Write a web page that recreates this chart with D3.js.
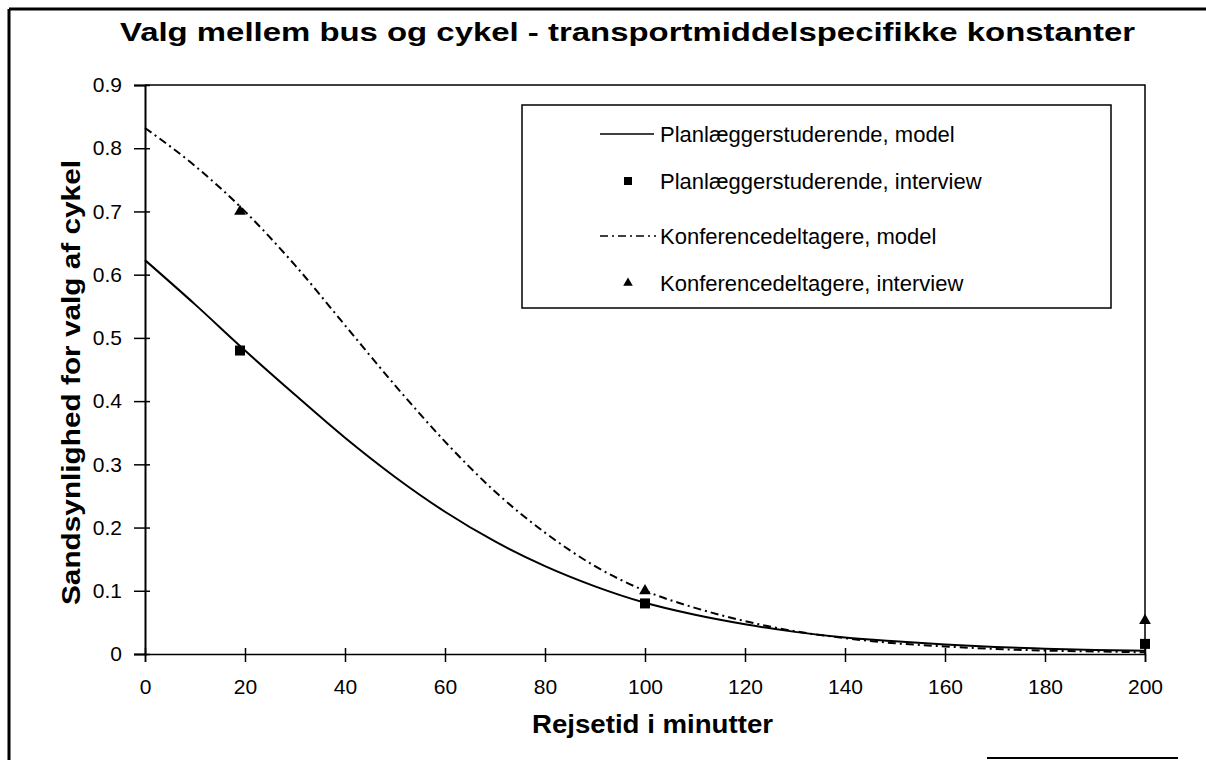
<!DOCTYPE html>
<html>
<head>
<meta charset="utf-8">
<script src="https://cdn.jsdelivr.net/npm/d3@7"></script>
<style>
  body { margin: 0; background: #fff; }
  svg { display: block; font-family: "Liberation Sans", Arial, sans-serif; }
</style>
</head>
<body>
<div id="chart"></div>
<script>
// travel time in minutes, model curves
const minutes = [0, 10, 20, 30, 40, 50, 60, 70, 80, 90, 100, 110, 120, 130, 140, 150, 160, 170, 180, 190, 200];
const planModel = [0.623, 0.553, 0.48, 0.41, 0.342, 0.28, 0.225, 0.178, 0.139, 0.107, 0.081, 0.062, 0.047, 0.035, 0.026, 0.02, 0.015, 0.011, 0.0085, 0.0065, 0.005];
const konfModel = [0.832, 0.772, 0.70, 0.615, 0.52, 0.425, 0.336, 0.257, 0.192, 0.139, 0.10, 0.073, 0.052, 0.036, 0.025, 0.017, 0.012, 0.008, 0.0055, 0.004, 0.0027];

// interview points
const interviewMinutes = [19, 100, 200];
const planInterview = [0.48, 0.08, 0.016];
const konfInterview = [0.70, 0.10, 0.053];

const xTicks = [0, 20, 40, 60, 80, 100, 120, 140, 160, 180, 200];
const yTicks = [0, 0.1, 0.2, 0.3, 0.4, 0.5, 0.6, 0.7, 0.8, 0.9];

const legendLabels = [
  "Planlæggerstuderende, model",
  "Planlæggerstuderende, interview",
  "Konferencedeltagere, model",
  "Konferencedeltagere, interview"
];

const W = 1206, H = 760;
const svg = d3.select("#chart").append("svg")
  .attr("width", W)
  .attr("height", H);

svg.append("rect").attr("width", W).attr("height", H).attr("fill", "#fff");

// scanned page border (left + top, plus stub at bottom)
svg.append("line").attr("x1", 9).attr("y1", 9).attr("x2", 1206).attr("y2", 9)
  .attr("stroke", "#000").attr("stroke-width", 3);
svg.append("line").attr("x1", 9).attr("y1", 9).attr("x2", 9).attr("y2", 760)
  .attr("stroke", "#000").attr("stroke-width", 3);
svg.append("line").attr("x1", 987).attr("y1", 758).attr("x2", 1178).attr("y2", 758)
  .attr("stroke", "#000").attr("stroke-width", 2);

const x = d3.scaleLinear().domain([0, 200]).range([145, 1145]);
const y = d3.scaleLinear().domain([0, 0.9]).range([654, 85]);

// plot frame top and right
svg.append("path")
  .attr("d", `M${x(0)},${y(0.9)}H${x(200)}V${y(0)}`)
  .attr("fill", "none").attr("stroke", "#000").attr("stroke-width", 1.5);

// y axis
const yAxis = svg.append("g")
  .attr("transform", `translate(${x(0)},0)`)
  .call(d3.axisLeft(y).tickValues(yTicks).tickSize(11).tickPadding(12)
    .tickFormat(d => d === 0 ? "0" : d.toFixed(1)));
yAxis.select(".domain").attr("stroke-width", 2);
yAxis.selectAll(".tick line").attr("x1", 5).attr("stroke-width", 1.5);
yAxis.selectAll(".tick text").attr("font-size", 21).attr("fill", "#000")
  .attr("font-family", "Liberation Sans, Arial, sans-serif");

// x axis
const xAxis = svg.append("g")
  .attr("transform", `translate(0,${y(0)})`)
  .call(d3.axisBottom(x).tickValues(xTicks).tickSize(8).tickPadding(17));
xAxis.select(".domain").attr("stroke-width", 1.5);
xAxis.selectAll(".tick line").attr("y1", -6).attr("stroke-width", 1.5);
xAxis.selectAll(".tick text").attr("font-size", 21).attr("fill", "#000")
  .attr("font-family", "Liberation Sans, Arial, sans-serif");

// model curves
const line = d3.line()
  .x((d, i) => x(minutes[i]))
  .y(d => y(d))
  .curve(d3.curveMonotoneX);

svg.append("path").datum(planModel)
  .attr("d", line)
  .attr("fill", "none").attr("stroke", "#000").attr("stroke-width", 2);

svg.append("path").datum(konfModel)
  .attr("d", line)
  .attr("fill", "none").attr("stroke", "#000").attr("stroke-width", 2)
  .attr("stroke-dasharray", "8,4,2,4");

// interview markers
const sq = 10;
svg.selectAll("rect.plan")
  .data(planInterview).enter()
  .append("rect").attr("class", "plan")
  .attr("x", (d, i) => x(interviewMinutes[i]) - sq / 2)
  .attr("y", d => y(d) - sq / 2)
  .attr("width", sq).attr("height", sq)
  .attr("fill", "#000");

const tri = d3.symbol().type(d3.symbolTriangle).size(60);
svg.selectAll("path.konf")
  .data(konfInterview).enter()
  .append("path").attr("class", "konf")
  .attr("d", tri)
  .attr("transform", (d, i) => `translate(${x(interviewMinutes[i])},${y(d)})`)
  .attr("fill", "#000");

// legend
const lg = svg.append("g");
lg.append("rect")
  .attr("x", 522).attr("y", 105).attr("width", 589).attr("height", 203)
  .attr("fill", "#fff").attr("stroke", "#000").attr("stroke-width", 1.5);

const rowY = [134, 181, 236, 283];
lg.append("line").attr("x1", 600).attr("x2", 654).attr("y1", rowY[0]).attr("y2", rowY[0])
  .attr("stroke", "#000").attr("stroke-width", 1.5);
lg.append("rect").attr("x", 624).attr("y", rowY[1] - 4).attr("width", 8).attr("height", 8)
  .attr("fill", "#000");
lg.append("line").attr("x1", 600).attr("x2", 656).attr("y1", rowY[2]).attr("y2", rowY[2])
  .attr("stroke", "#000").attr("stroke-width", 1.5).attr("stroke-dasharray", "8,4,2,4");
lg.append("path").attr("d", d3.symbol().type(d3.symbolTriangle).size(40))
  .attr("transform", `translate(628,${rowY[3]})`).attr("fill", "#000");

lg.selectAll("text.leg")
  .data(legendLabels).enter()
  .append("text").attr("class", "leg")
  .attr("x", 660)
  .attr("y", (d, i) => rowY[i] + 8)
  .attr("font-size", 22)
  .text(d => d);

// title and axis titles
svg.append("text")
  .attr("x", 120).attr("y", 41)
  .attr("font-size", 26).attr("font-weight", "bold")
  .attr("textLength", 1015).attr("lengthAdjust", "spacingAndGlyphs")
  .text("Valg mellem bus og cykel - transportmiddelspecifikke konstanter");

svg.append("text")
  .attr("transform", "translate(80,605) rotate(-90)")
  .attr("font-size", 26).attr("font-weight", "bold")
  .attr("textLength", 445).attr("lengthAdjust", "spacingAndGlyphs")
  .text("Sandsynlighed for valg af cykel");

svg.append("text")
  .attr("x", 532).attr("y", 733)
  .attr("font-size", 25).attr("font-weight", "bold")
  .attr("textLength", 241).attr("lengthAdjust", "spacingAndGlyphs")
  .text("Rejsetid i minutter");
</script>
</body>
</html>
